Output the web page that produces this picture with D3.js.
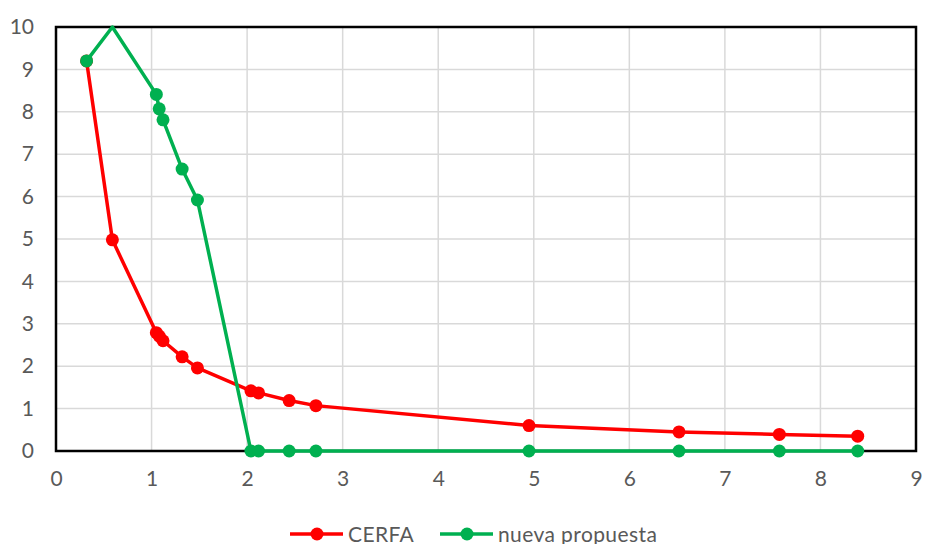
<!DOCTYPE html>
<html>
<head>
<meta charset="utf-8">
<script src="https://cdn.jsdelivr.net/npm/d3@7"></script>
<style>
  html, body { margin: 0; padding: 0; background: #fff; }
  svg { display: block; }
  text { font-family: Lato, "Open Sans", sans-serif; fill: #595959; }
</style>
</head>
<body>
<svg id="chart" width="925" height="544"></svg>
<script>
// Shared x positions of both series
const xValues = [0.32, 0.59, 1.05, 1.08, 1.12, 1.32, 1.48, 2.04, 2.12, 2.44, 2.72, 4.95, 6.52, 7.57, 8.39];
const cerfaValues = [9.2, 4.98, 2.79, 2.71, 2.6, 2.22, 1.96, 1.42, 1.37, 1.19, 1.07, 0.6, 0.45, 0.39, 0.35];
const propuestaValues = [9.2, 10, 8.41, 8.07, 7.81, 6.65, 5.92, 0, 0, 0, 0, 0, 0, 0, 0];
const xTicks = [0, 1, 2, 3, 4, 5, 6, 7, 8, 9];
const yTicks = [0, 1, 2, 3, 4, 5, 6, 7, 8, 9, 10];
const seriesNames = ["CERFA", "nueva propuesta"];
const seriesColors = ["#ff0000", "#00b050"];

const svg = d3.select("#chart");
const margin = { left: 56, top: 27, right: 9, bottom: 93 };
const W = 925, H = 544;
const x = d3.scaleLinear().domain([0, 9]).range([margin.left, W - margin.right]);
const y = d3.scaleLinear().domain([0, 10]).range([H - margin.bottom, margin.top]);
const fontSize = "21px";

// Gridlines
svg.append("g").selectAll("line.v").data(xTicks).join("line")
  .attr("x1", d => x(d)).attr("x2", d => x(d))
  .attr("y1", y(0)).attr("y2", y(10))
  .attr("stroke", "#d9d9d9").attr("stroke-width", 1.5);
svg.append("g").selectAll("line.h").data(yTicks).join("line")
  .attr("x1", x(0)).attr("x2", x(9))
  .attr("y1", d => y(d)).attr("y2", d => y(d))
  .attr("stroke", "#d9d9d9").attr("stroke-width", 1.5);

// Axes (labels only)
const xAxis = svg.append("g").attr("transform", `translate(0,${y(0)})`)
  .call(d3.axisBottom(x).tickValues(xTicks).tickSize(0).tickPadding(20).tickFormat(d3.format("d")));
const yAxis = svg.append("g").attr("transform", `translate(${x(0)},0)`)
  .call(d3.axisLeft(y).tickValues(yTicks).tickSize(0).tickPadding(22).tickFormat(d3.format("d")));
[xAxis, yAxis].forEach(a => {
  a.select(".domain").remove();
  a.selectAll("text").style("font-size", fontSize).style("fill", "#595959")
    .style("font-family", "Lato, 'Open Sans', sans-serif");
});

// Plot frame
svg.append("rect")
  .attr("x", x(0)).attr("y", y(10))
  .attr("width", x(9) - x(0)).attr("height", y(0) - y(10))
  .attr("fill", "none").attr("stroke", "#000").attr("stroke-width", 2.5);

const series = [cerfaValues, propuestaValues];
const line = d3.line().x(d => x(d[0])).y(d => y(d[1]));

series.forEach((vals, i) => {
  const pts = xValues.map((xv, k) => [xv, vals[k]]);
  const g = svg.append("g");
  g.append("path").datum(pts)
    .attr("d", line).attr("fill", "none")
    .attr("stroke", seriesColors[i]).attr("stroke-width", 3.5)
    .attr("stroke-linejoin", "round");
  // markers at the axis maximum fall on the frame and are not shown
  g.selectAll("circle").data(pts.filter(p => p[1] < 10)).join("circle")
    .attr("cx", d => x(d[0])).attr("cy", d => y(d[1]))
    .attr("r", 6.5).attr("fill", seriesColors[i]);
});

// Legend
const legend = svg.append("g");
const legendItems = [{ x: 290, name: seriesNames[0], color: seriesColors[0] },
                     { x: 440, name: seriesNames[1], color: seriesColors[1] }];
legendItems.forEach(it => {
  const ly = 534;
  legend.append("line").attr("x1", it.x).attr("x2", it.x + 53)
    .attr("y1", ly).attr("y2", ly)
    .attr("stroke", it.color).attr("stroke-width", 3.5);
  legend.append("circle").attr("cx", it.x + 27).attr("cy", ly).attr("r", 6.5).attr("fill", it.color);
  legend.append("text").attr("x", it.x + 58).attr("y", ly + 7.5)
    .style("font-size", fontSize).style("letter-spacing", "0.4px").text(it.name);
});
</script>
</body>
</html>
